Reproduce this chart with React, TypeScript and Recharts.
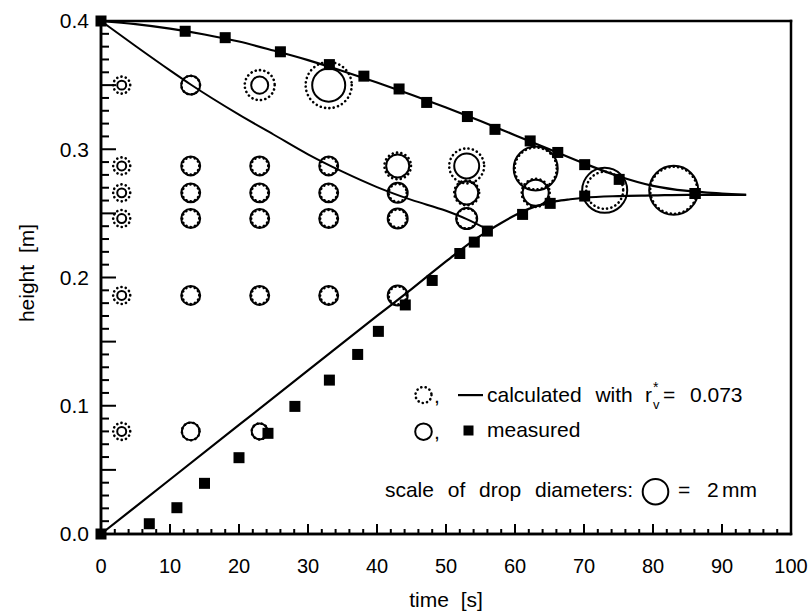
import { useEffect, useState } from 'react'
import { ComposedChart, Line, Scatter, XAxis, YAxis } from 'recharts'

// calculated trajectories, [time s, height m]
const UPPER_CALC = [
  [0, 0.4], [5, 0.3975], [10, 0.394], [15, 0.3895], [20, 0.384], [25, 0.377], [30, 0.3695],
  [35, 0.361], [40, 0.352], [45, 0.3425], [50, 0.3325], [55, 0.322], [60, 0.311], [65, 0.3],
  [70, 0.289], [75, 0.279], [80, 0.2715], [85, 0.2675], [90, 0.2655], [93.5, 0.2645],
]
const MIDDLE_CALC = [
  [0, 0.4], [5, 0.3805], [10, 0.3615], [13, 0.3505], [20, 0.327], [25, 0.3115], [30, 0.296],
  [35, 0.2825], [40, 0.2705], [45, 0.2605], [50, 0.252], [53, 0.2455], [56, 0.2375],
]
const LOWER_CALC = [
  [0, 0], [10, 0.0425], [20, 0.085], [30, 0.1275], [40, 0.17], [45, 0.191], [50, 0.2125],
  [52, 0.221], [54, 0.229], [56, 0.236], [58, 0.2425], [60, 0.2485], [62, 0.2535], [64, 0.257],
  [66, 0.2595], [68, 0.261], [70, 0.2622], [75, 0.2635], [80, 0.264], [85, 0.2645], [90, 0.2645],
  [93.5, 0.2645],
]

// measured heights (squares)
const UPPER_MEAS = [
  [0, 0.4], [12.2, 0.392], [18, 0.387], [26, 0.376], [33.1, 0.366], [38.1, 0.357], [43.2, 0.347],
  [47.2, 0.3365], [53.1, 0.3255], [57.1, 0.3155], [62.2, 0.3065], [66.2, 0.2975], [70.1, 0.288],
  [75.1, 0.2765], [86.1, 0.2655],
]
const LOWER_MEAS = [
  [0, 0], [7, 0.008], [11, 0.0205], [15, 0.0395], [20, 0.0595], [24.2, 0.0785], [28.1, 0.0995],
  [33.1, 0.12], [37.2, 0.14], [40.2, 0.158], [44.1, 0.1786], [48, 0.1977], [52, 0.2187],
  [54.1, 0.2276], [56, 0.2362], [61.1, 0.2492], [65.1, 0.2578], [70.1, 0.2635], [86.1, 0.2655],
]

// drop diameters, [time s, height m, diameter mm]
const DROPS_MEAS = [
  [3, 0.35, 0.7], [3, 0.287, 0.7], [3, 0.266, 0.7], [3, 0.246, 0.7], [3, 0.186, 0.7], [3, 0.08, 0.7],
  [13, 0.35, 1.48], [13, 0.287, 1.48], [13, 0.266, 1.48], [13, 0.246, 1.48], [13, 0.186, 1.48], [13, 0.08, 1.38],
  [23, 0.35, 1.33], [23, 0.287, 1.48], [23, 0.266, 1.48], [23, 0.246, 1.48], [23, 0.186, 1.48], [23, 0.08, 1.25],
  [33, 0.35, 2.58], [33, 0.287, 1.48], [33, 0.266, 1.48], [33, 0.246, 1.48], [33, 0.186, 1.48],
  [43, 0.287, 1.8], [43, 0.266, 1.56], [43, 0.246, 1.56], [43, 0.186, 1.56],
  [53, 0.287, 1.95], [53, 0.266, 1.8], [53, 0.246, 1.64],
  [63, 0.285, 3.44], [63, 0.266, 2.03],
  [73, 0.268, 3.52],
  [83, 0.268, 3.83],
]
const DROPS_CALC = [
  [3, 0.35, 1.33], [3, 0.287, 1.33], [3, 0.266, 1.33], [3, 0.246, 1.33], [3, 0.186, 1.33], [3, 0.08, 1.33],
  [13, 0.35, 1.45], [13, 0.287, 1.33], [13, 0.266, 1.33], [13, 0.246, 1.33], [13, 0.186, 1.33], [13, 0.08, 1.38],
  [23, 0.35, 2.34], [23, 0.287, 1.33], [23, 0.266, 1.33], [23, 0.246, 1.33], [23, 0.186, 1.33], [23, 0.08, 1.25],
  [33, 0.35, 3.6], [33, 0.287, 1.33], [33, 0.266, 1.33], [33, 0.246, 1.33], [33, 0.186, 1.33],
  [43, 0.287, 2.08], [43, 0.266, 1.4], [43, 0.246, 1.4], [43, 0.186, 1.4],
  [53, 0.287, 2.73], [53, 0.266, 1.95], [53, 0.246, 1.56],
  [63, 0.285, 3.28], [63, 0.266, 2.19],
  [73, 0.268, 2.89],
  [83, 0.268, 3.67],
]

const X_LABELS = [0, 10, 20, 30, 40, 50, 60, 70, 80, 90, 100]
const Y_VALUES = [0, 0.1, 0.2, 0.3, 0.4]
const Y_LABELS = ['0.0', '0.1', '0.2', '0.3', '0.4']

const X_MINOR = Array.from({ length: 51 }, (_, i) => i * 2)
const Y_MINOR = Array.from({ length: 41 }, (_, i) => i / 100)

const W = 801
const H = 604
const MARGIN = { top: 13, right: 18, bottom: 28, left: 33 }
const Y_AXIS_W = 60
const X_AXIS_H = 50
// plot box, as the margins and axis sizes give it to recharts
const PLOT = {
  left: MARGIN.left + Y_AXIS_W,
  top: MARGIN.top,
  right: W - MARGIN.right,
  bottom: H - MARGIN.bottom - X_AXIS_H,
}
const px = (t: number) => PLOT.left + (t / 100) * (PLOT.right - PLOT.left)
const py = (h: number) => PLOT.bottom - (h / 0.4) * (PLOT.bottom - PLOT.top)

const PX_PER_MM = 6.4
const FONT = '"Liberation Sans", Arial, sans-serif'

const pts = (a: number[][]) => a.map(([t, h]) => ({ t, h }))
const drops = (a: number[][]) => a.map(([t, h, dia]) => ({ t, h, dia }))

function XTick(props: any) {
  const { x, y, payload } = props
  return (
    <g>
      <text x={x} y={y + 39} textAnchor="middle" fontSize={20} fontFamily={FONT} fill="#000">{payload.value}</text>
    </g>
  )
}

const Square = ({ cx, cy }: any) => <rect x={cx - 5.5} y={cy - 5.5} width={11} height={11} fill="#000" />
const SolidDrop = ({ cx, cy, payload }: any) => (
  <circle cx={cx} cy={cy} r={payload.dia * PX_PER_MM} fill="none" stroke="#000" strokeWidth={2} />
)
const DottedDrop = ({ cx, cy, payload }: any) => (
  <circle cx={cx} cy={cy} r={payload.dia * PX_PER_MM} fill="none" stroke="#000" strokeWidth={2.6}
    strokeDasharray="0.1 4.3" strokeLinecap="round" />
)

// frame and inward ticks drawn as filled bars
function Frame() {
  const t = 2.5
  const w = PLOT.right - PLOT.left
  const h = PLOT.bottom - PLOT.top
  return (
    <g fill="#000" stroke="none">
      <rect x={PLOT.left - t / 2} y={PLOT.top - t / 2} width={w + t} height={t} />
      <rect x={PLOT.left - t / 2} y={PLOT.bottom - t / 2} width={w + t} height={t} />
      <rect x={PLOT.left - t / 2} y={PLOT.top - t / 2} width={t} height={h + t} />
      <rect x={PLOT.right - t / 2} y={PLOT.top - t / 2} width={t} height={h + t} />
      {X_MINOR.map(v => {
        const len = v % 10 === 0 ? 10 : 5
        return <rect key={'x' + v} x={px(v) - 1} y={PLOT.bottom - len} width={2} height={len} />
      })}
      {Y_MINOR.map((v, i) => {
        const len = i % 5 === 0 ? 15 : 8
        return <rect key={'y' + i} x={PLOT.left} y={py(v) - 1} width={len} height={2} />
      })}
    </g>
  )
}

function Overlay() {
  return (
    <svg width={W} height={H} style={{ position: 'absolute', left: 0, top: 0, pointerEvents: 'none' }}>
      <Frame />
      <circle cx={415.5} cy={387} r={8} fill="none" stroke="#000" strokeWidth={2.6} strokeDasharray="0.1 4.3" strokeLinecap="round" />
      <rect x={450} y={386} width={25} height={2.2} fill="#000" />
      <circle cx={415.5} cy={423.7} r={8.3} fill="none" stroke="#000" strokeWidth={2} />
      <rect x={455.5} y={417.5} width={10} height={10} fill="#000" />
      <circle cx={647.5} cy={483.7} r={2 * PX_PER_MM} fill="none" stroke="#000" strokeWidth={2} />
    </svg>
  )
}

// legend and axis titles as html text; top = baseline - 19
function Texts() {
  const base = { position: 'absolute' as const, fontFamily: FONT, fontSize: 21, lineHeight: '24px', color: '#000', whiteSpace: 'nowrap' as const }
  const at = (left: number, baseline: number, extra: any = {}) => ({ ...base, left, top: baseline - 19, ...extra })
  return (
    <div style={{ position: 'absolute', left: 0, top: 0, width: W, height: H, pointerEvents: 'none' }}>
      <div style={at(426, 395)}>,</div>
      <div style={at(479, 394, { wordSpacing: 8 })}>calculated with</div>
      <div style={at(637, 394)}>r</div>
      <div style={at(645, 386, { fontSize: 14 })}>*</div>
      <div style={at(645, 402, { fontSize: 13, lineHeight: '16px', top: 389 })}>v</div>
      <div style={at(655, 394)}>=</div>
      <div style={at(682, 394)}>0.073</div>

      <div style={at(426, 431)}>,</div>
      <div style={at(479, 429)}>measured</div>

      <div style={{ ...base, right: W - 625, top: 489 - 19, wordSpacing: 8 }}>scale of drop diameters:</div>
      <div style={at(670, 489)}>=</div>
      <div style={at(699, 489)}>2</div>
      <div style={at(714, 489)}>mm</div>

      <div style={{ ...base, left: 388, width: 100, textAlign: 'center', top: 599 - 19, wordSpacing: 6 }}>time [s]</div>
      <div style={{ ...base, left: 19 - 60, width: 120, height: 24, textAlign: 'center', top: 265 - 12, wordSpacing: 6, transform: 'rotate(-90deg)' }}>height [m]</div>
    </div>
  )
}

export default function App() {
  const [, setN] = useState(0)
  useEffect(() => {
    const id = setTimeout(() => setN(1), 200)
    return () => clearTimeout(id)
  }, [])
  return (
    <div style={{ position: 'absolute', left: 8, top: 8, width: W, height: H }}>
      <ComposedChart width={W} height={H} margin={MARGIN}>
        <XAxis
          dataKey="t" type="number" domain={[0, 100]} ticks={X_LABELS} interval={0}
          tickSize={0} tickMargin={0} height={X_AXIS_H} tickLine={false}
          axisLine={{ stroke: '#000', strokeWidth: 2.5 }} tick={<XTick />}
        />
        <YAxis
          dataKey="h" type="number" domain={[0, 0.4]} ticks={Y_VALUES} interval={0}
          width={Y_AXIS_W} tickLine={false} tickMargin={6}
          tickFormatter={(v: number) => Y_LABELS[Math.round(v * 10)]}
          tick={{ fill: '#000', fontSize: 21, fontFamily: FONT }}
          axisLine={{ stroke: '#000', strokeWidth: 2.5 }}
        />
        <Line data={pts(UPPER_CALC)} dataKey="h" type="monotone" stroke="#000" strokeWidth={2.2} dot={false} isAnimationActive={false} />
        <Line data={pts(MIDDLE_CALC)} dataKey="h" type="monotone" stroke="#000" strokeWidth={2} dot={false} isAnimationActive={false} />
        <Line data={pts(LOWER_CALC)} dataKey="h" type="monotone" stroke="#000" strokeWidth={2.2} dot={false} isAnimationActive={false} />
        <Scatter data={pts(UPPER_MEAS)} dataKey="h" shape={<Square />} isAnimationActive={false} />
        <Scatter data={pts(LOWER_MEAS)} dataKey="h" shape={<Square />} isAnimationActive={false} />
        <Scatter data={drops(DROPS_MEAS)} dataKey="h" shape={<SolidDrop />} isAnimationActive={false} />
        <Scatter data={drops(DROPS_CALC)} dataKey="h" shape={<DottedDrop />} isAnimationActive={false} />
      </ComposedChart>
      <Overlay />
      <Texts />
    </div>
  )
}
